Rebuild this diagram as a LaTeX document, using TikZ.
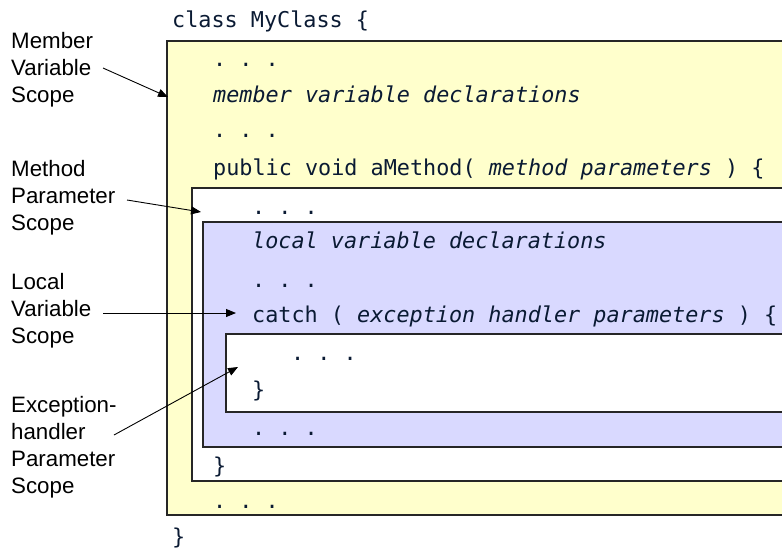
\documentclass[tikz,border=0pt]{standalone}
\usepackage{fontspec}
\setmainfont{Liberation Sans}
\setmonofont{DejaVu Sans Mono}
\usetikzlibrary{arrows.meta}

\definecolor{memberfill}{HTML}{FFFFCC}
\definecolor{localfill}{HTML}{D9D9FF}
\definecolor{codeink}{HTML}{0A1A33}

\tikzset{
  scopebox/.style={draw=black!85, line width=1.6pt},
  code/.style={anchor=base west, inner sep=0pt, text=codeink,
    font=\ttfamily\fontsize{21.8}{26}\selectfont},
  % base of a multi-line node is its last line
  scopelabel/.style={anchor=base west, inner sep=0pt, align=left,
    font=\fontsize{22.3}{27}\selectfont},
  pointer/.style={-{Triangle[length=10pt,width=8pt]}, line width=0.9pt}
}

\begin{document}
\begin{tikzpicture}[x=1pt,y=-1pt]
    \useasboundingbox (0,0) rectangle (782,550);
    \clip (0,0) rectangle (782,550);

    % nested scopes
    \draw[scopebox, fill=memberfill] (167,41) rectangle (800,515);
    \draw[scopebox, fill=white] (192,188) rectangle (800,481);
    \draw[scopebox, fill=localfill] (203,222) rectangle (800,447);
    \draw[scopebox, fill=white] (226,334) rectangle (800,412);

    % code
    \node[code] (cls) at (172,27) {class MyClass \{};
    \node[code] (dotsA) at (213,66) {. . .};
    \node[code] (mdecl) at (213,102) {\itshape member variable declarations};
    \node[code] (dotsB) at (213,137) {. . .};
    \node[code] (meth) at (213,175) {public void aMethod( \textit{method parameters} ) \{};
    \node[code] (dotsC) at (252,214) {. . .};
    \node[code] (ldecl) at (252,248) {\itshape local variable declarations};
    \node[code] (dotsD) at (252,287) {. . .};
    \node[code] (catch) at (252,322) {catch ( \textit{exception handler parameters} ) \{};
    \node[code] (dotsE) at (291,360) {. . .};
    \node[code] (rbA) at (252,397) {\}};
    \node[code] (dotsF) at (252,435) {. . .};
    \node[code] (rbB) at (213,473) {\}};
    \node[code] (dotsG) at (213,508) {. . .};
    \node[code] (rbC) at (172,544) {\}};

    % scope names
    \node[scopelabel] (member) at (11,102) {Member\\Variable\\Scope};
    \node[scopelabel] (param) at (11,230) {Method\\Parameter\\Scope};
    \node[scopelabel] (local) at (11,343) {Local\\Variable\\Scope};
    \node[scopelabel] (handler) at (11,493) {Exception-\\handler\\Parameter\\Scope};

    \coordinate (memberTail) at (103,68);
    \coordinate (memberTip) at (168,97);
    \coordinate (paramTail) at (127,200);
    \coordinate (paramTip) at (201,212);
    \coordinate (localTail) at (103,313);
    \coordinate (localTip) at (236,313);
    \coordinate (handlerTail) at (114,435);
    \coordinate (handlerTip) at (238,367);

    \draw[pointer] (memberTail) -- (memberTip);
    \draw[pointer] (paramTail) -- (paramTip);
    \draw[pointer] (localTail) -- (localTip);
    \draw[pointer] (handlerTail) -- (handlerTip);
\end{tikzpicture}
\end{document}
